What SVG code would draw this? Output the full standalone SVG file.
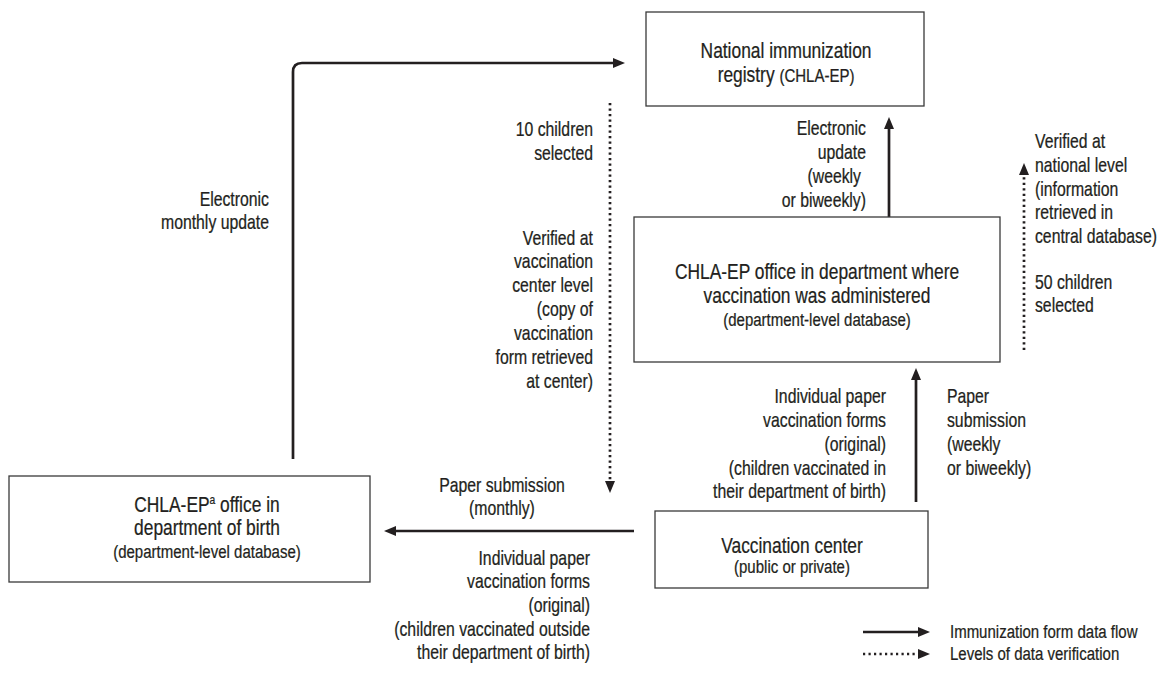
<svg xmlns="http://www.w3.org/2000/svg" width="1170" height="673" viewBox="0 0 1170 673">
<style>
text{font-family:'Liberation Sans',Arial,sans-serif;fill:#231f20;stroke:#231f20;stroke-width:0.25}
.box{fill:#fff;stroke:#3a3a3a;stroke-width:1.3}
.t{font-size:22px}
.s{font-size:19px}
.l{font-size:20px}
.lg{font-size:19px}
.solid{fill:none;stroke:#231f20;stroke-width:2.7}
.dot{fill:none;stroke:#231f20;stroke-width:2.7;stroke-dasharray:2.2 3.3}
</style>
<defs>
<marker id="ah" viewBox="0 0 12 10" refX="4" refY="5" markerWidth="12" markerHeight="10" markerUnits="userSpaceOnUse" orient="auto">
<path d="M0,0 L12,5 L0,10 z" fill="#231f20"/>
</marker>
</defs>

<g id="connectors">
<path class="solid" d="M293,459 V72 Q293,63 302,63 H617" marker-end="url(#ah)"/>
<line class="solid" x1="889" y1="217" x2="889" y2="125" marker-end="url(#ah)"/>
<line class="solid" x1="916" y1="502" x2="916" y2="376" marker-end="url(#ah)"/>
<line class="solid" x1="634" y1="531" x2="392" y2="531" marker-end="url(#ah)"/>
<line class="dot" x1="610" y1="103" x2="610" y2="485" marker-end="url(#ah)"/>
<line class="dot" x1="1024" y1="350" x2="1024" y2="171" marker-end="url(#ah)"/>
</g>

<g id="n-national">
<rect class="box" x="646" y="12" width="278" height="94"/>
<text class="t" transform="scale(0.79,1)" x="995" y="58" text-anchor="middle">National immunization</text>
<text class="t" transform="scale(0.79,1)" x="995" y="82" text-anchor="middle">registry <tspan class="s">(CHLA-EP)</tspan></text>
</g>

<g id="n-dept">
<rect class="box" x="634" y="217" width="366" height="145"/>
<text class="t" transform="scale(0.79,1)" x="1034.2" y="279" text-anchor="middle">CHLA-EP office in department where</text>
<text class="t" transform="scale(0.79,1)" x="1034.2" y="303" text-anchor="middle">vaccination was administered</text>
<text class="s" transform="scale(0.79,1)" x="1034.2" y="326" text-anchor="middle">(department-level database)</text>
</g>

<g id="n-birth">
<rect class="box" x="9" y="476" width="361" height="106"/>
<text class="t" transform="scale(0.79,1)" x="262" y="512" text-anchor="middle">CHLA-EP<tspan font-size="13" dy="-8">a</tspan><tspan dy="8"> office in</tspan></text>
<text class="t" transform="scale(0.79,1)" x="262" y="535" text-anchor="middle">department of birth</text>
<text class="s" transform="scale(0.79,1)" x="262" y="558" text-anchor="middle">(department-level database)</text>
</g>

<g id="n-center">
<rect class="box" x="655" y="511" width="273" height="77"/>
<text class="t" transform="scale(0.79,1)" x="1002.5" y="553" text-anchor="middle">Vaccination center</text>
<text class="s" transform="scale(0.79,1)" x="1002.5" y="573" text-anchor="middle">(public or private)</text>
</g>

<g id="labels">
<text class="l" transform="scale(0.79,1)" text-anchor="end"><tspan x="750.6" y="136">10 children</tspan><tspan x="750.6" y="160">selected</tspan></text>
<text class="l" transform="scale(0.79,1)" text-anchor="end"><tspan x="750.6" y="245">Verified at</tspan><tspan x="750.6" y="268">vaccination</tspan><tspan x="750.6" y="292">center level</tspan><tspan x="750.6" y="316">(copy of</tspan><tspan x="750.6" y="340">vaccination</tspan><tspan x="750.6" y="364">form retrieved</tspan><tspan x="750.6" y="388">at center)</tspan></text>
<text class="l" transform="scale(0.79,1)" text-anchor="end"><tspan x="340.5" y="206">Electronic</tspan><tspan x="340.5" y="229">monthly update</tspan></text>
<text class="l" transform="scale(0.79,1)" text-anchor="end"><tspan x="1096.2" y="135">Electronic</tspan><tspan x="1096.2" y="159">update</tspan><tspan x="1089.9" y="183">(weekly</tspan><tspan x="1096.2" y="207">or biweekly)</tspan></text>
<text class="l" transform="scale(0.79,1)"><tspan x="1310.1" y="148">Verified at</tspan><tspan x="1310.1" y="172">national level</tspan><tspan x="1310.1" y="196">(information</tspan><tspan x="1310.1" y="219">retrieved in</tspan><tspan x="1310.1" y="243">central database)</tspan><tspan x="1310.1" y="289">50 children</tspan><tspan x="1310.1" y="312">selected</tspan></text>
<text class="l" transform="scale(0.79,1)" text-anchor="end"><tspan x="1121.5" y="403">Individual paper</tspan><tspan x="1121.5" y="427">vaccination forms</tspan><tspan x="1121.5" y="451">(original)</tspan><tspan x="1121.5" y="475">(children vaccinated in</tspan><tspan x="1121.5" y="498">their department of birth)</tspan></text>
<text class="l" transform="scale(0.79,1)"><tspan x="1198.7" y="403">Paper</tspan><tspan x="1198.7" y="427">submission</tspan><tspan x="1198.7" y="451">(weekly</tspan><tspan x="1198.7" y="475">or biweekly)</tspan></text>
<text class="l" transform="scale(0.79,1)" text-anchor="middle"><tspan x="635.4" y="492">Paper submission</tspan><tspan x="635.4" y="515">(monthly)</tspan></text>
<text class="l" transform="scale(0.79,1)" text-anchor="end"><tspan x="746.8" y="565">Individual paper</tspan><tspan x="746.8" y="588">vaccination forms</tspan><tspan x="746.8" y="612">(original)</tspan><tspan x="746.8" y="636">(children vaccinated outside</tspan><tspan x="746.8" y="659">their department of birth)</tspan></text>
</g>

<g id="legend">
<line class="solid" x1="863" y1="632" x2="922" y2="632" marker-end="url(#ah)"/>
<text class="lg" transform="scale(0.79,1)" x="1202.5" y="638">Immunization form data flow</text>
<line class="dot" x1="863" y1="654" x2="922" y2="654" marker-end="url(#ah)"/>
<text class="lg" transform="scale(0.79,1)" x="1202.5" y="660">Levels of data verification</text>
</g>
</svg>
